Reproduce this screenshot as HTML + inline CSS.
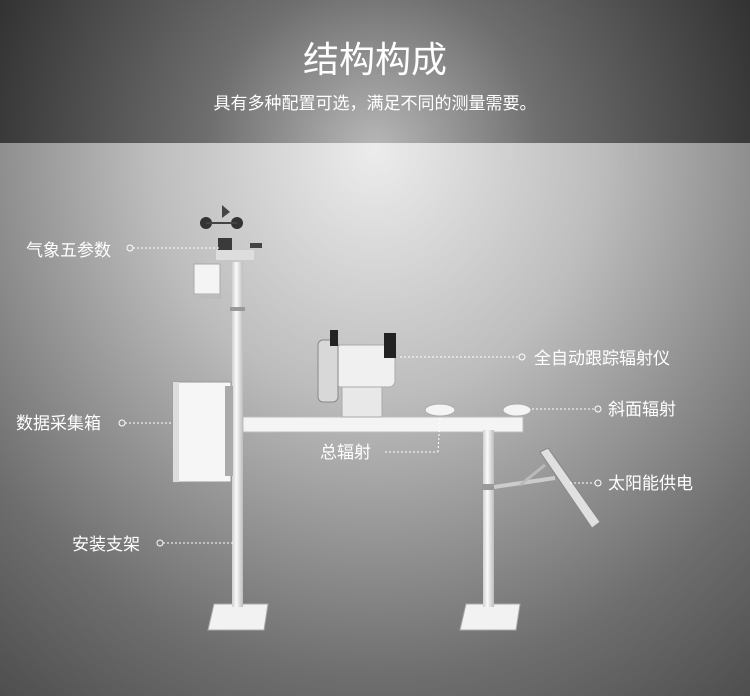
<!DOCTYPE html>
<html><head><meta charset="utf-8"><style>
html,body{margin:0;padding:0;}
body{width:750px;height:696px;overflow:hidden;font-family:"Liberation Sans","Noto Sans CJK SC",sans-serif;}
</style></head><body>
<svg width="750" height="696" xmlns="http://www.w3.org/2000/svg" style="display:block">
<defs>
<radialGradient id="hd" cx="375" cy="150" r="420" gradientUnits="userSpaceOnUse">
<stop offset="0" stop-color="#b8b8b8"/><stop offset="0.4" stop-color="#6e6e6e"/><stop offset="1" stop-color="#2e2e2e"/></radialGradient>
<radialGradient id="bd" cx="375" cy="150" r="640" gradientTransform="translate(375 150) scale(1 1.1) translate(-375 -150)" gradientUnits="userSpaceOnUse">
<stop offset="0" stop-color="#ececec"/><stop offset="0.35" stop-color="#bdbdbd"/><stop offset="0.75" stop-color="#6e6e6e"/><stop offset="1" stop-color="#4a4a4a"/></radialGradient>
<linearGradient id="pole" x1="0" x2="1"><stop offset="0" stop-color="#cfcfcf"/><stop offset="0.4" stop-color="#fafafa"/><stop offset="1" stop-color="#bcbcbc"/></linearGradient>
</defs>
<rect width="750" height="143" fill="url(#hd)"/>
<rect y="143" width="750" height="553" fill="url(#bd)"/>
<text x="375" y="72" fill="#fff" font-size="36" text-anchor="middle">结构构成</text>
<text x="375" y="109" fill="#fff" font-size="17" text-anchor="middle">具有多种配置可选，满足不同的测量需要。</text>

<!-- left pole -->
<polygon points="214,604 268,604 264,630 208,630" fill="#f2f2f2" stroke="#aaa"/>
<rect x="232" y="262" width="11" height="345" fill="url(#pole)"/>
<!-- sensors top -->
<circle cx="206" cy="223" r="6" fill="#333"/><circle cx="237" cy="223" r="6" fill="#333"/>
<polygon points="222,205 230,212 222,218" fill="#444"/>
<line x1="206" y1="223" x2="237" y2="223" stroke="#444" stroke-width="2"/>
<rect x="218" y="238" width="14" height="22" fill="#3a3a3a"/>
<rect x="216" y="250" width="38" height="10" fill="#ddd"/>
<rect x="250" y="243" width="12" height="5" fill="#444"/>
<rect x="194" y="264" width="26" height="30" fill="#f4f4f4" stroke="#aaa"/>
<rect x="198" y="294" width="24" height="5" fill="#bbb"/>
<rect x="230" y="307" width="15" height="4" fill="#999"/>
<!-- box -->
<rect x="173" y="382" width="58" height="100" fill="#f6f6f6" stroke="#999"/>
<rect x="173" y="382" width="6" height="100" fill="#ddd"/>
<rect x="225" y="386" width="8" height="90" fill="#aaa"/>
<!-- crossbar -->
<rect x="243" y="417" width="280" height="15" fill="#f4f4f4" stroke="#bbb"/>
<!-- right pole -->
<polygon points="466,604 520,604 516,630 460,630" fill="#f2f2f2" stroke="#aaa"/>
<rect x="483" y="430" width="11" height="177" fill="url(#pole)"/>
<rect x="482" y="484" width="13" height="6" fill="#999"/>
<line x1="494" y1="487" x2="555" y2="478" stroke="#ccc" stroke-width="4"/>
<line x1="520" y1="485" x2="545" y2="465" stroke="#bbb" stroke-width="3"/>
<polygon points="540,452 548,448 600,522 592,528" fill="#e0e0e0" stroke="#888"/>
<!-- tracker -->
<rect x="335" y="345" width="60" height="42" rx="6" fill="#f0f0f0" stroke="#aaa"/>
<rect x="318" y="340" width="20" height="62" rx="5" fill="#d8d8d8" stroke="#888"/>
<rect x="384" y="333" width="12" height="25" fill="#222"/>
<rect x="330" y="330" width="8" height="16" fill="#222"/>
<rect x="342" y="387" width="40" height="30" fill="#e8e8e8" stroke="#aaa"/>
<ellipse cx="440" cy="410" rx="15" ry="6" fill="#f4f4f4" stroke="#aaa"/>
<ellipse cx="517" cy="410" rx="14" ry="6" fill="#f4f4f4" stroke="#aaa"/>

<!-- labels -->
<g fill="#fff" font-size="17">
<text x="26" y="256">气象五参数</text>
<text x="16" y="429">数据采集箱</text>
<text x="72" y="550">安装支架</text>
<text x="320" y="458">总辐射</text>
<text x="534" y="364">全自动跟踪辐射仪</text>
<text x="608" y="415">斜面辐射</text>
<text x="608" y="489">太阳能供电</text>
</g>
<g stroke="#fff" fill="none" stroke-width="1">
<circle cx="130" cy="248" r="3"/><line x1="133" y1="248" x2="220" y2="248" stroke-dasharray="2,2"/>
<circle cx="122" cy="423" r="3"/><line x1="125" y1="423" x2="173" y2="423" stroke-dasharray="2,2"/>
<circle cx="160" cy="543" r="3"/><line x1="163" y1="543" x2="234" y2="543" stroke-dasharray="2,2"/>
<circle cx="522" cy="357" r="3"/><line x1="400" y1="357" x2="519" y2="357" stroke-dasharray="2,2"/>
<circle cx="598" cy="409" r="3"/><line x1="532" y1="409" x2="595" y2="409" stroke-dasharray="2,2"/>
<circle cx="598" cy="483" r="3"/><line x1="570" y1="483" x2="595" y2="483" stroke-dasharray="2,2"/>
<line x1="385" y1="452" x2="438" y2="452" stroke-dasharray="2,2"/><line x1="438" y1="452" x2="440" y2="418" stroke-dasharray="2,2"/>
</g>
</svg>
</body></html>
